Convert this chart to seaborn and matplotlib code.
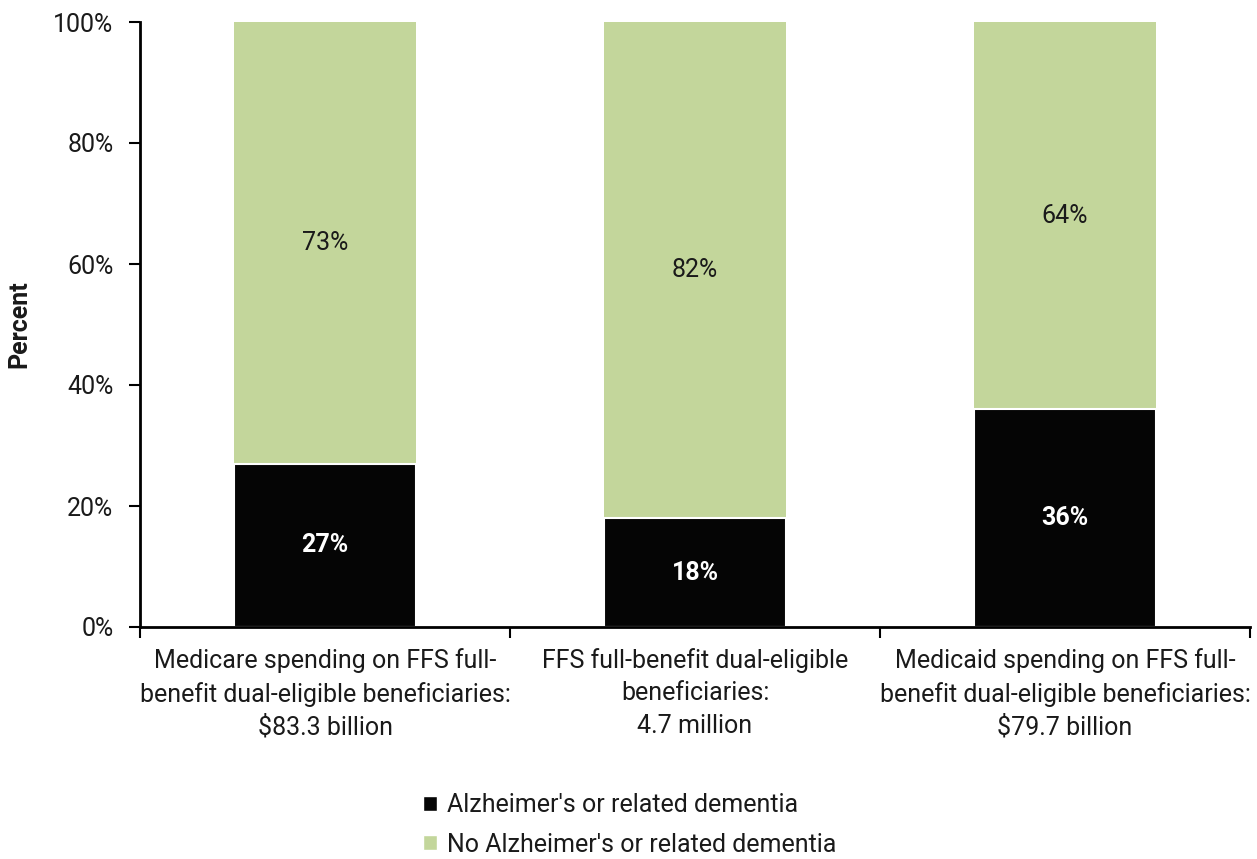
import matplotlib
matplotlib.use("Agg")
import matplotlib.pyplot as plt
import seaborn as sns
import pandas as pd
from matplotlib.patches import Patch

categories = [
    "Medicare spending on FFS full-\nbenefit dual-eligible beneficiaries:\n$83.3 billion",
    "FFS full-benefit dual-eligible\nbeneficiaries:\n4.7 million",
    "Medicaid spending on FFS full-\nbenefit dual-eligible beneficiaries:\n$79.7 billion",
]
alz = [27, 18, 36]
no_alz = [73, 82, 64]
series_names = ["Alzheimer's or related dementia", "No Alzheimer's or related dementia"]
yticks = [0, 20, 40, 60, 80, 100]

sns.set_theme(style="white")
plt.rcParams['font.family'] = ['Roboto', 'DejaVu Sans']

BLACK = "#050505"
GREEN = "#C3D69B"
TXT = "#1a1a1a"
FS = 18

fig = plt.figure(figsize=(12.57, 8.59), dpi=100)
ax = fig.add_axes([140/1257, 1 - 627/859, 1110/1257, 605/859])

df = pd.DataFrame({"cat": categories, "alz": alz, "total": [a + b for a, b in zip(alz, no_alz)]})
sns.barplot(data=df, x="cat", y="total", color=GREEN, width=0.49, ax=ax,
            linewidth=0, saturation=1)
sns.barplot(data=df, x="cat", y="alz", color=BLACK, width=0.49, ax=ax,
            edgecolor="white", linewidth=1.5, saturation=1)

for i, (a, b) in enumerate(zip(alz, no_alz)):
    ax.text(i, a / 2, f"{a}%", ha="center", va="center", color="white",
            fontsize=FS, fontweight="bold")
    ax.text(i, a + b / 2, f"{b}%", ha="center", va="center", color=TXT,
            fontsize=FS)

ax.set_xlim(-0.5, 2.5)
ax.set_ylim(0, 100)
ax.set_yticks(yticks)
ax.set_yticklabels([f"{t}%" for t in yticks], fontsize=FS, color=TXT)
ax.set_ylabel("Percent", fontsize=FS, fontweight="bold", color=TXT, labelpad=16)
ax.set_xlabel("")
ax.set_xticks([0, 1, 2])
ax.set_xticklabels(categories, fontsize=FS, color=TXT, linespacing=1.45)
ax.tick_params(axis="x", which="major", length=0, pad=15)
ax.set_xticks([-0.5, 0.5, 1.5, 2.5], minor=True)
ax.tick_params(axis="x", which="minor", length=8, width=1.5, direction="out", color="black", bottom=True)
ax.tick_params(axis="y", length=8, width=1.5, direction="out", color="black", left=True, pad=11)

for s in ["top", "right"]:
    ax.spines[s].set_visible(False)
for s in ["left", "bottom"]:
    ax.spines[s].set_color("black")
    ax.spines[s].set_linewidth(2)

handles = [Patch(facecolor=BLACK, label=series_names[0]),
           Patch(facecolor=GREEN, label=series_names[1])]
fig.legend(handles=handles, loc="center", bbox_to_anchor=(630/1257, 1 - 825/859),
           ncol=1, frameon=False, fontsize=FS, handlelength=0.55, handleheight=0.55,
           handletextpad=0.4, labelspacing=0.6, labelcolor=TXT, borderpad=0)

fig.savefig("out.png", dpi=100)
